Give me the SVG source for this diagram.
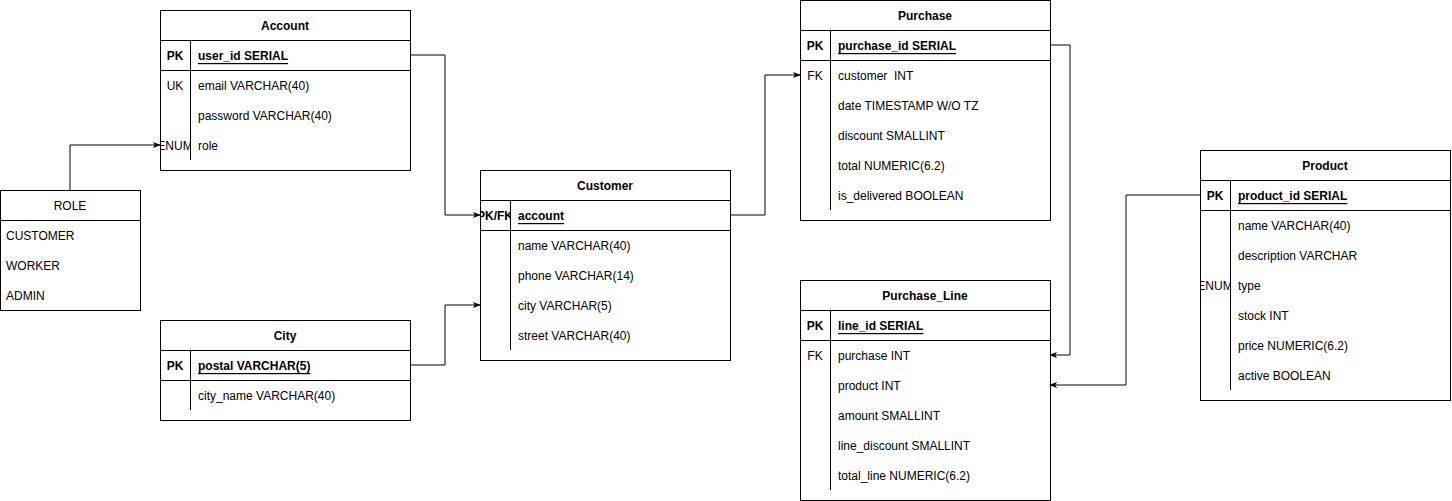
<svg xmlns="http://www.w3.org/2000/svg" width="1452" height="501" viewBox="0 0 1452 501">
<style>
.box{fill:#fff;stroke:#000;stroke-width:1}
.ln{stroke:#000;stroke-width:1;fill:none}
text{font-family:"Liberation Sans",Arial,sans-serif;font-size:12px;fill:#000;dominant-baseline:central;transform:translateY(1px)}
.h{font-weight:bold;text-anchor:middle}
.hn{text-anchor:middle}
.k{text-anchor:middle}
.kb{text-anchor:middle;font-weight:bold}
.pk{font-weight:bold;text-decoration:underline}
.c{stroke:#000;stroke-width:1;fill:none;marker-end:url(#arr)}
</style>
<defs>
<marker id="arr" viewBox="0 0 10 10" refX="9" refY="5" markerWidth="8" markerHeight="8" markerUnits="userSpaceOnUse" orient="auto">
<path d="M0,1 L10,5 L0,9 L2.5,5 Z" fill="#000"/>
</marker>
<clipPath id="clipAcc" clipPathUnits="userSpaceOnUse"><rect x="160" y="130" width="30" height="30"/></clipPath>
<clipPath id="clipCus" clipPathUnits="userSpaceOnUse"><rect x="480" y="200" width="30" height="30"/></clipPath>
<clipPath id="clipPro" clipPathUnits="userSpaceOnUse"><rect x="1200" y="270" width="30" height="30"/></clipPath>
</defs>
<rect width="1452" height="501" fill="#fff"/>

<g id="account">
<rect class="box" x="160.5" y="10.5" width="250" height="160"/>
<line class="ln" x1="160" y1="40.5" x2="410" y2="40.5"/>
<line class="ln" x1="160" y1="70.5" x2="410" y2="70.5"/>
<line class="ln" x1="190.5" y1="40" x2="190.5" y2="160"/>
<text class="h" x="285" y="25">Account</text>
<text class="kb" x="175" y="55">PK</text>
<text class="pk" x="198" y="55">user_id SERIAL</text>
<text class="k" x="175" y="85">UK</text>
<text x="198" y="85">email VARCHAR(40)</text>
<text x="198" y="115">password VARCHAR(40)</text>
<g clip-path="url(#clipAcc)"><text class="k" x="175" y="145">ENUM</text></g>
<text x="198" y="145">role</text>
</g>

<g id="role">
<rect class="box" x="0.5" y="190.5" width="140" height="120"/>
<line class="ln" x1="0" y1="220.5" x2="140" y2="220.5"/>
<text class="hn" x="70" y="205">ROLE</text>
<text x="6" y="235">CUSTOMER</text>
<text x="6" y="265">WORKER</text>
<text x="6" y="295">ADMIN</text>
</g>

<g id="city">
<rect class="box" x="160.5" y="320.5" width="250" height="100"/>
<line class="ln" x1="160" y1="350.5" x2="410" y2="350.5"/>
<line class="ln" x1="160" y1="380.5" x2="410" y2="380.5"/>
<line class="ln" x1="190.5" y1="350" x2="190.5" y2="410"/>
<text class="h" x="285" y="335">City</text>
<text class="kb" x="175" y="365">PK</text>
<text class="pk" x="198" y="365">postal VARCHAR(5)</text>
<text x="198" y="395">city_name VARCHAR(40)</text>
</g>

<g id="customer">
<rect class="box" x="480.5" y="170.5" width="250" height="190"/>
<line class="ln" x1="480" y1="200.5" x2="730" y2="200.5"/>
<line class="ln" x1="480" y1="230.5" x2="730" y2="230.5"/>
<line class="ln" x1="510.5" y1="200" x2="510.5" y2="350"/>
<text class="h" x="605" y="185">Customer</text>
<g clip-path="url(#clipCus)"><text class="kb" x="495" y="215">PK/FK</text></g>
<text class="pk" x="518" y="215">account</text>
<text x="518" y="245">name VARCHAR(40)</text>
<text x="518" y="275">phone VARCHAR(14)</text>
<text x="518" y="305">city VARCHAR(5)</text>
<text x="518" y="335">street VARCHAR(40)</text>
</g>

<g id="purchase">
<rect class="box" x="800.5" y="0.5" width="250" height="220"/>
<line class="ln" x1="800" y1="30.5" x2="1050" y2="30.5"/>
<line class="ln" x1="800" y1="60.5" x2="1050" y2="60.5"/>
<line class="ln" x1="830.5" y1="30" x2="830.5" y2="210"/>
<text class="h" x="925" y="15">Purchase</text>
<text class="kb" x="815" y="45">PK</text>
<text class="pk" x="838" y="45">purchase_id SERIAL</text>
<text class="k" x="815" y="75">FK</text>
<text x="838" y="75" xml:space="preserve">customer  INT</text>
<text x="838" y="105">date TIMESTAMP W/O TZ</text>
<text x="838" y="135">discount SMALLINT</text>
<text x="838" y="165">total NUMERIC(6.2)</text>
<text x="838" y="195">is_delivered BOOLEAN</text>
</g>

<g id="purchase_line">
<rect class="box" x="800.5" y="280.5" width="250" height="220"/>
<line class="ln" x1="800" y1="310.5" x2="1050" y2="310.5"/>
<line class="ln" x1="800" y1="340.5" x2="1050" y2="340.5"/>
<line class="ln" x1="830.5" y1="310" x2="830.5" y2="490"/>
<text class="h" x="925" y="295">Purchase_Line</text>
<text class="kb" x="815" y="325">PK</text>
<text class="pk" x="838" y="325">line_id SERIAL</text>
<text class="k" x="815" y="355">FK</text>
<text x="838" y="355">purchase INT</text>
<text x="838" y="385">product INT</text>
<text x="838" y="415">amount SMALLINT</text>
<text x="838" y="445">line_discount SMALLINT</text>
<text x="838" y="475">total_line NUMERIC(6.2)</text>
</g>

<g id="product">
<rect class="box" x="1200.5" y="150.5" width="250" height="250"/>
<line class="ln" x1="1200" y1="180.5" x2="1450" y2="180.5"/>
<line class="ln" x1="1200" y1="210.5" x2="1450" y2="210.5"/>
<line class="ln" x1="1230.5" y1="180" x2="1230.5" y2="390"/>
<text class="h" x="1325" y="165">Product</text>
<text class="kb" x="1215" y="195">PK</text>
<text class="pk" x="1238" y="195">product_id SERIAL</text>
<text x="1238" y="225">name VARCHAR(40)</text>
<text x="1238" y="255">description VARCHAR</text>
<g clip-path="url(#clipPro)"><text class="k" x="1215" y="285">ENUM</text></g>
<text x="1238" y="285">type</text>
<text x="1238" y="315">stock INT</text>
<text x="1238" y="345">price NUMERIC(6.2)</text>
<text x="1238" y="375">active BOOLEAN</text>
</g>

<g id="connectors">
<path class="c" d="M410,55 H445 V215 H480"/>
<path class="c" d="M410,365 H445 V305 H480"/>
<path class="c" d="M70,190 V145 H160"/>
<path class="c" d="M730,215 H765 V75 H800"/>
<path class="c" d="M1050,45 H1070 V355 H1050"/>
<path class="c" d="M1200,195 H1126 V385 H1050"/>
</g>
</svg>
